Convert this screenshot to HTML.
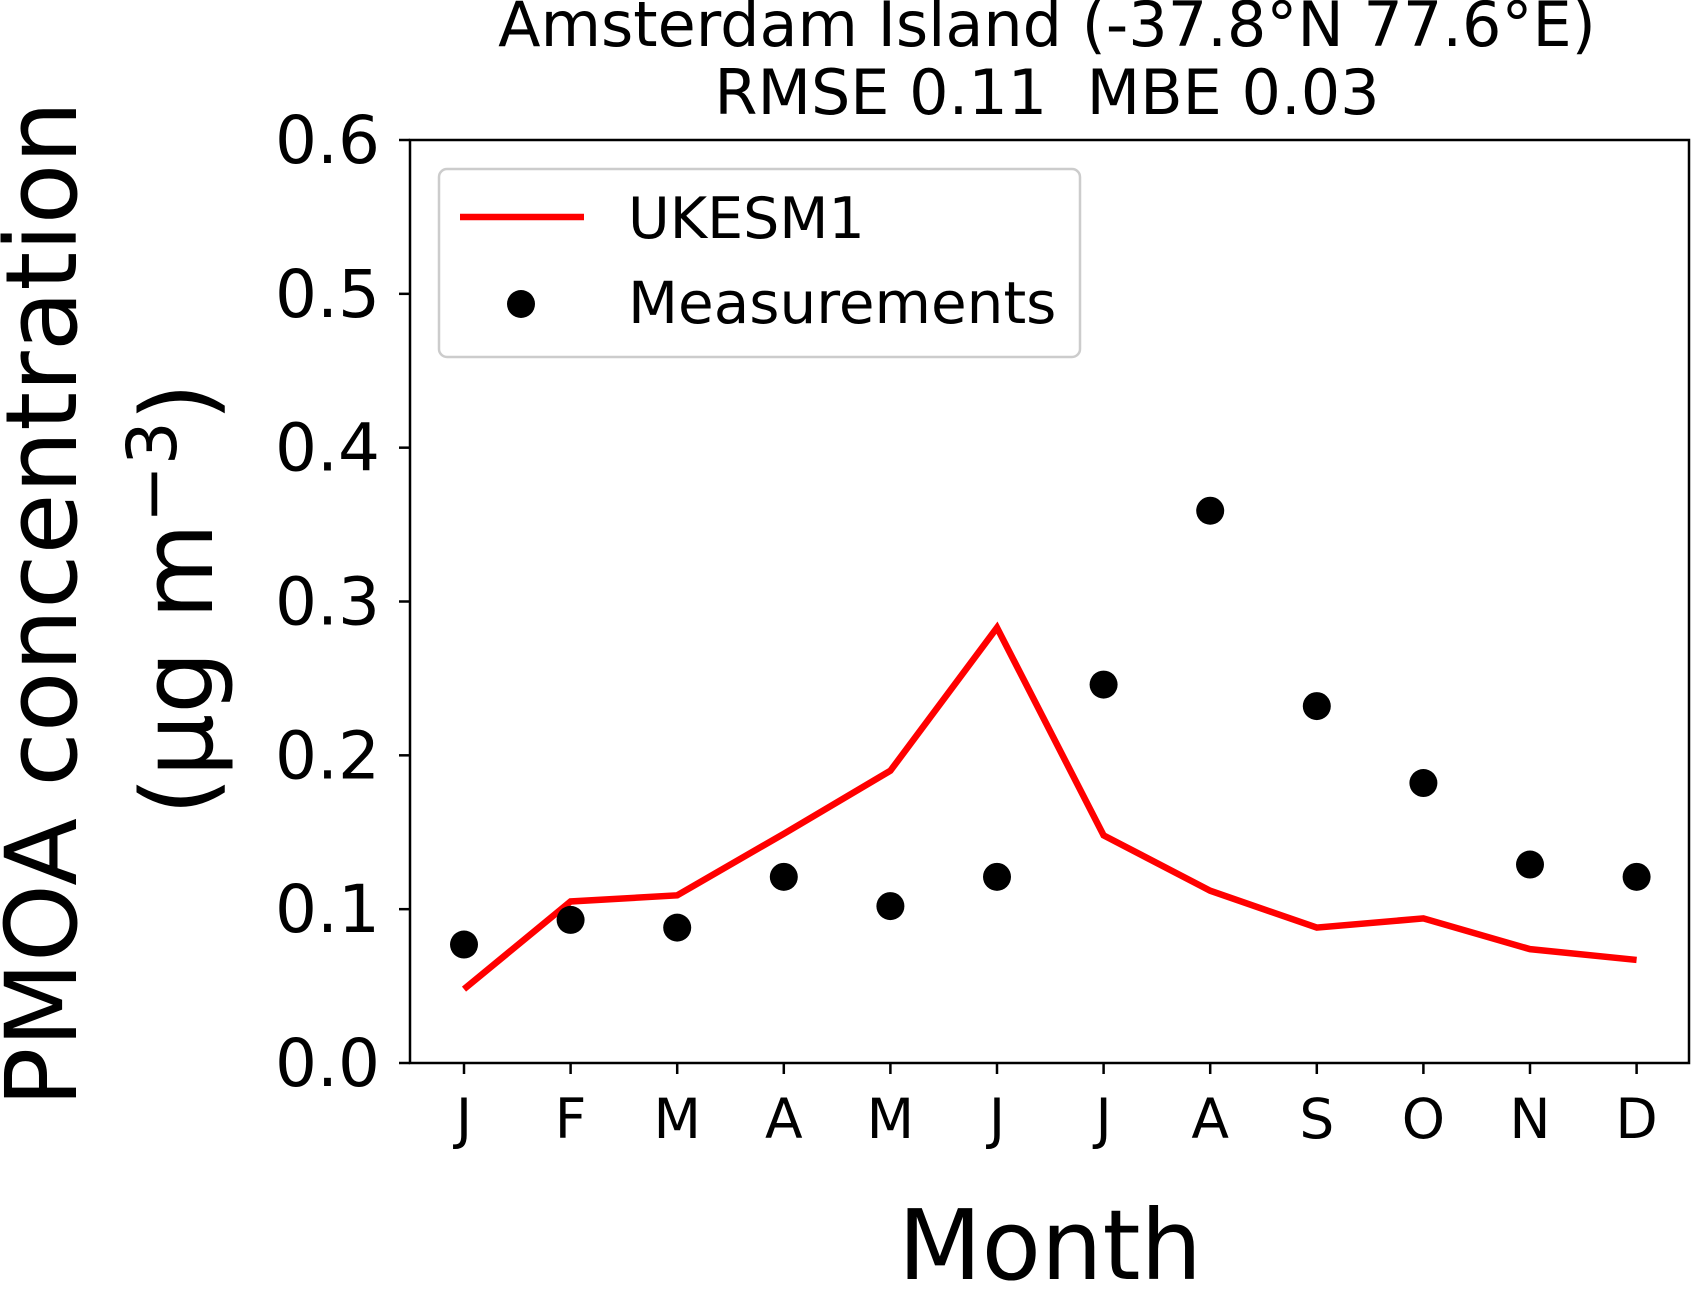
<!DOCTYPE html>
<html><head><meta charset="utf-8"><style>
html,body{margin:0;padding:0;background:#fff;}
svg{display:block;font-family:"DejaVu Sans","Liberation Sans",sans-serif;}
</style></head><body>
<svg id="chart" width="1692" height="1290" viewBox="0 0 1692 1290">
<text x="1047" y="46" font-size="62" text-anchor="middle">Amsterdam Island (-37.8°N 77.6°E)</text>
<text x="1047" y="114" font-size="62" text-anchor="middle">RMSE 0.11&#160;&#160;MBE 0.03</text>
<text transform="translate(76,604) rotate(-90)" font-size="99" text-anchor="middle">PMOA concentration</text>
<text transform="translate(212,599) rotate(-90)" font-size="99" text-anchor="middle">(µg m<tspan dy="-36" font-size="69">−3</tspan><tspan dy="36">)</tspan></text>
<text x="1050" y="1279" font-size="97" text-anchor="middle">Month</text>
<g id="yticks"></g><g id="xticks"></g><g id="marks"></g>
<rect x="410" y="140" width="1279" height="923" fill="none" stroke="#000" stroke-width="2.5"/>
<g>
<rect x="439" y="169" width="641" height="188" rx="8" fill="#fff" fill-opacity="0.8" stroke="#ccc" stroke-width="2.5"/>
<line x1="460" y1="217" x2="584" y2="217" stroke="#f00" stroke-width="6.5"/>
<text x="628" y="238" font-size="57">UKESM1</text>
<circle cx="521" cy="304" r="14" fill="#000"/>
<text x="628" y="323" font-size="58">Measurements</text>
</g>
</svg>
<script>
const months = ["J","F","M","A","M","J","J","A","S","O","N","D"];
const model = [0.048,0.105,0.109,0.149,0.190,0.283,0.148,0.112,0.088,0.094,0.074,0.067];
const measured = [0.077,0.093,0.088,0.121,0.102,0.121,0.246,0.359,0.232,0.182,0.129,0.121];
const yTicks = [0.0,0.1,0.2,0.3,0.4,0.5,0.6];
const yTickLabels = ["0.0","0.1","0.2","0.3","0.4","0.5","0.6"];
const NS="http://www.w3.org/2000/svg";
const x0=464, dx=106.6, yBot=1063, yTop=140, yMax=0.6;
function xs(i){return x0+i*dx;}
function ys(v){return yBot-(v/yMax)*(yBot-yTop);}
function mk(t,a){const e=document.createElementNS(NS,t);for(const k in a)e.setAttribute(k,a[k]);return e;}
const yt=document.getElementById('yticks');
yTicks.forEach((v,i)=>{
 const l=mk('line',{x1:399,x2:410,y1:ys(v),y2:ys(v),stroke:'#000','stroke-width':2.5});
 
 
 yt.appendChild(l);
 const t=mk('text',{x:380,y:ys(v)+23,'font-size':66,'text-anchor':'end'});
 t.textContent=yTickLabels[i];
 
 
 yt.appendChild(t);
});
const xt=document.getElementById('xticks');
months.forEach((m,i)=>{
 const l=mk('line',{x1:xs(i),x2:xs(i),y1:1063,y2:1074,stroke:'#000','stroke-width':2.5});
 
 
 xt.appendChild(l);
 const t=mk('text',{x:xs(i),y:1138,'font-size':55,'text-anchor':'middle'});
 t.textContent=m;
 
 
 xt.appendChild(t);
});
const g=document.getElementById('marks');
const p=mk('polyline',{points:model.map((v,i)=>xs(i)+','+ys(v)).join(' '),fill:'none',stroke:'#f00','stroke-width':6.5});


g.appendChild(p);
measured.forEach((v,i)=>{
 const c=mk('circle',{cx:xs(i),cy:ys(v),r:14,fill:'#000'});
 
 
 g.appendChild(c);
});
</script>
</body></html>
